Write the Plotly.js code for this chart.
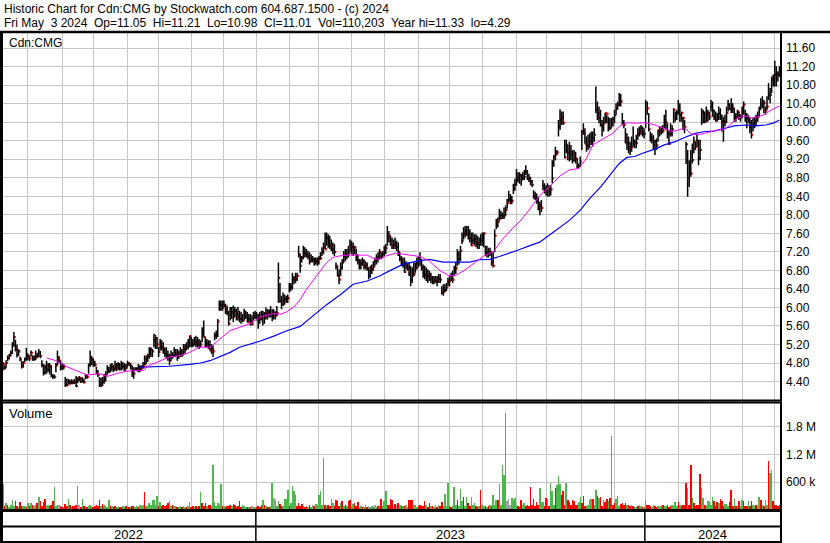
<!DOCTYPE html>
<html>
<head>
<meta charset="utf-8">
<script src="https://cdn.plot.ly/plotly-3.0.1.min.js"></script>
<style>
  html, body { margin: 0; padding: 0; background: #ffffff; }
  #chart { width: 830px; height: 543px; }
</style>
</head>
<body>
<div id="chart"></div>
<script>
// ---- Daily bars (index 0 = first trading day shown, mid-May 2022; 499 = Fri May 3 2024) ----
const high = [
4.82,4.75,4.86,4.96,5.00,5.07,5.25,5.47,5.30,5.20,
5.10,4.94,4.85,4.84,4.92,5.13,5.00,4.96,5.07,4.97,
4.96,5.07,5.02,5.10,5.06,4.86,4.78,4.76,4.85,4.80,
4.80,4.75,4.56,4.55,4.80,5.07,4.95,4.85,4.80,4.78,
4.50,4.46,4.46,4.44,4.45,4.44,4.46,4.52,4.50,4.52,
4.48,4.50,4.46,4.56,4.55,4.79,5.07,4.95,4.90,4.85,
4.72,4.65,4.50,4.48,4.50,4.56,4.62,4.75,4.72,4.78,
4.80,4.76,4.85,4.80,4.82,4.80,4.85,4.82,4.80,4.78,
4.85,4.82,4.80,4.74,4.71,4.71,4.71,4.78,4.75,4.75,
4.82,4.96,4.96,5.00,5.14,5.14,5.10,5.43,5.41,5.36,
5.14,5.32,5.29,5.25,5.14,5.14,5.07,5.00,5.07,5.03,
5.14,5.10,5.10,5.07,5.14,5.10,5.21,5.21,5.25,5.32,
5.39,5.36,5.32,5.36,5.39,5.36,5.32,5.29,5.57,5.72,
5.36,5.32,5.29,5.29,5.21,5.18,5.46,5.50,5.75,6.15,
6.15,6.15,6.15,6.08,6.04,5.93,6.01,6.01,6.04,6.01,
5.97,6.01,5.93,5.90,5.86,5.97,5.93,5.90,5.86,5.86,
5.83,5.90,5.93,5.90,5.86,5.90,5.93,5.93,5.90,6.00,
5.96,5.96,6.03,5.96,5.96,5.92,6.03,6.97,6.53,6.25,
6.32,6.28,6.25,6.28,6.53,6.53,6.75,6.68,6.75,6.75,
7.33,7.15,7.11,7.33,7.30,7.26,7.22,7.19,7.15,7.11,
7.08,7.08,7.08,7.11,7.19,7.30,7.40,7.62,7.62,7.58,
7.55,7.47,7.40,7.37,6.97,6.90,6.82,6.97,7.04,7.22,
7.26,7.26,7.33,7.47,7.44,7.40,7.33,7.26,7.15,7.04,
7.04,7.08,7.04,7.00,6.97,6.86,6.90,6.93,7.00,7.08,
7.15,7.19,7.26,7.19,7.22,7.33,7.37,7.76,7.65,7.55,
7.51,7.47,7.51,7.44,7.40,7.19,7.11,7.08,7.08,7.00,
6.97,6.97,6.90,6.86,6.97,6.97,7.08,7.11,7.19,7.04,
6.93,6.90,6.86,6.82,6.79,6.75,6.68,6.68,6.68,6.68,
6.72,6.72,6.46,6.50,6.50,6.53,6.64,6.68,6.75,6.79,
6.90,6.97,7.26,7.22,7.33,7.62,7.73,7.76,7.76,7.76,
7.69,7.62,7.62,7.58,7.58,7.55,7.51,7.58,7.62,7.62,
7.33,7.33,7.29,7.29,7.22,7.19,7.69,7.91,7.94,8.13,
8.09,8.05,8.16,8.20,8.34,8.52,8.45,8.41,8.67,8.78,
8.99,8.92,8.92,8.88,8.92,8.97,9.07,8.97,8.89,8.82,
8.75,8.53,8.50,8.46,8.39,8.28,8.32,8.75,8.68,8.64,
8.68,8.64,8.64,9.18,9.29,9.47,9.40,10.05,10.28,10.23,
10.23,9.62,9.62,9.51,9.58,9.51,9.40,9.40,9.36,9.22,
9.11,9.26,9.83,9.98,9.87,9.69,9.73,9.76,9.80,9.80,
9.87,10.77,10.45,10.34,10.27,10.05,10.12,10.20,10.16,10.12,
10.09,10.09,10.12,10.27,10.41,10.45,10.63,10.61,10.20,10.05,
9.87,9.76,9.69,9.58,9.69,9.91,9.62,9.73,9.87,9.91,
9.94,9.91,9.87,10.48,10.45,10.20,9.80,9.76,9.72,9.62,
9.65,9.83,9.91,9.91,9.94,10.16,10.27,9.98,9.83,9.98,
9.94,10.30,10.23,10.27,10.48,10.41,10.23,10.12,10.05,9.58,
9.40,9.18,9.40,9.54,9.69,9.58,9.73,9.62,9.62,10.30,
10.27,10.23,10.34,10.27,10.23,10.48,10.45,10.27,10.23,10.20,
10.34,10.30,10.16,10.12,10.16,10.34,10.48,10.41,10.52,10.41,
10.30,10.20,10.27,10.23,10.16,10.34,10.45,10.27,10.20,10.16,
10.12,10.05,10.09,10.12,10.16,10.23,10.34,10.52,10.56,10.48,
10.34,10.56,10.85,10.74,10.99,11.03,11.33,11.21,11.10,11.21
];
const low = [
4.64,4.66,4.70,4.84,4.88,4.95,5.00,5.15,5.05,4.92,
4.95,4.84,4.68,4.70,4.82,4.85,4.86,4.84,4.94,4.85,
4.85,4.86,4.90,4.93,4.90,4.71,4.53,4.55,4.57,4.60,
4.55,4.49,4.46,4.46,4.60,4.75,4.80,4.64,4.65,4.66,
4.28,4.30,4.34,4.33,4.34,4.34,4.35,4.28,4.36,4.40,
4.37,4.38,4.36,4.45,4.46,4.57,4.72,4.75,4.72,4.72,
4.55,4.50,4.28,4.28,4.30,4.35,4.40,4.55,4.58,4.60,
4.62,4.60,4.64,4.62,4.65,4.64,4.64,4.66,4.62,4.66,
4.71,4.74,4.66,4.50,4.46,4.64,4.62,4.60,4.60,4.64,
4.68,4.75,4.78,4.82,4.89,4.93,4.93,5.14,5.10,5.10,
4.93,5.07,5.07,5.00,4.93,4.89,4.85,4.75,4.85,4.89,
4.93,4.93,4.85,4.89,4.93,4.93,4.96,5.00,5.07,5.10,
5.14,5.14,5.14,5.18,5.14,5.14,5.10,5.14,5.25,5.36,
5.14,5.14,5.10,5.07,5.00,4.93,5.29,5.32,5.36,5.93,
5.93,5.93,6.01,5.86,5.83,5.61,5.72,5.75,5.68,5.79,
5.72,5.72,5.68,5.65,5.68,5.72,5.75,5.68,5.68,5.61,
5.61,5.72,5.75,5.72,5.54,5.65,5.72,5.61,5.65,5.74,
5.74,5.78,5.78,5.70,5.74,5.74,5.81,6.10,6.10,5.96,
6.03,6.06,6.10,6.10,6.32,6.35,6.39,6.50,6.53,6.57,
7.08,6.75,6.97,7.04,7.08,7.08,7.04,6.93,6.97,6.97,
6.90,6.93,6.90,6.93,7.04,7.11,7.15,7.26,7.33,7.29,
7.26,7.22,7.15,7.11,6.82,6.68,6.50,6.68,6.82,6.97,
7.00,7.04,7.08,7.19,7.15,7.11,7.15,7.00,6.93,6.82,
6.82,6.90,6.82,6.82,6.79,6.61,6.64,6.72,6.79,6.90,
6.93,6.97,7.04,7.04,7.06,7.11,7.15,7.33,7.40,7.33,
7.26,7.26,7.26,7.22,7.11,7.00,6.90,6.86,6.75,6.82,
6.79,6.68,6.46,6.53,6.68,6.75,6.82,6.86,6.90,6.79,
6.64,6.61,6.57,6.53,6.57,6.53,6.50,6.50,6.53,6.46,
6.53,6.53,6.28,6.25,6.32,6.35,6.46,6.46,6.57,6.53,
6.68,6.72,6.90,6.93,7.00,7.37,7.47,7.51,7.55,7.47,
7.40,7.33,7.37,7.33,7.30,7.26,7.26,7.33,7.33,7.30,
7.11,7.08,7.08,7.11,6.90,6.86,7.19,7.69,7.73,7.87,
7.91,7.91,7.91,7.98,8.13,8.27,8.23,8.23,8.45,8.52,
8.63,8.70,8.67,8.63,8.74,8.75,8.86,8.75,8.71,8.64,
8.60,8.35,8.32,8.24,8.10,7.99,8.06,8.53,8.46,8.42,
8.39,8.39,8.42,8.68,9.04,9.18,9.29,9.69,9.83,9.94,
9.94,9.22,9.33,9.18,9.15,9.18,9.11,9.15,9.11,9.00,
9.00,9.04,9.40,9.73,9.54,9.36,9.40,9.44,9.51,9.47,
9.58,10.20,10.05,9.98,9.91,9.69,9.80,9.98,9.98,9.80,
9.83,9.87,9.91,9.98,10.16,10.27,10.34,10.34,9.94,9.87,
9.54,9.40,9.33,9.29,9.36,9.47,9.44,9.44,9.62,9.69,
9.73,9.69,9.65,9.87,10.16,9.80,9.58,9.54,9.40,9.29,
9.40,9.58,9.69,9.73,9.76,9.87,9.83,9.65,9.51,9.69,
9.69,9.98,10.01,10.05,10.16,10.01,10.01,9.83,9.76,9.10,
8.39,8.60,8.82,9.11,9.33,9.40,9.47,9.07,9.18,9.94,
9.98,9.98,10.01,10.01,10.05,10.23,10.12,10.05,10.01,10.01,
10.05,10.05,9.80,9.58,9.91,9.98,10.23,10.27,10.20,10.20,
10.01,10.01,10.09,10.05,10.01,10.09,10.16,10.01,9.87,9.98,
9.76,9.65,9.80,9.87,9.91,10.01,10.12,10.27,10.30,10.20,
10.16,10.27,10.48,10.41,10.63,10.77,10.77,10.77,10.88,10.98
];
const close = [
4.78,4.69,4.80,4.90,4.96,5.02,5.20,5.36,5.10,4.98,
5.05,4.88,4.74,4.80,4.88,5.00,4.95,4.90,5.02,4.88,
4.90,4.95,4.95,5.03,4.95,4.75,4.60,4.70,4.66,4.75,
4.72,4.52,4.50,4.50,4.75,4.90,4.85,4.70,4.72,4.72,
4.35,4.32,4.40,4.38,4.38,4.37,4.38,4.30,4.45,4.48,
4.40,4.42,4.38,4.52,4.50,4.75,4.80,4.88,4.78,4.76,
4.62,4.55,4.32,4.36,4.40,4.45,4.55,4.68,4.62,4.71,
4.71,4.66,4.70,4.75,4.71,4.68,4.78,4.72,4.64,4.70,
4.80,4.76,4.74,4.60,4.57,4.66,4.68,4.70,4.67,4.70,
4.72,4.77,4.90,4.95,5.00,5.09,5.05,5.30,5.33,5.20,
5.04,5.25,5.15,5.10,5.00,4.97,4.95,4.85,4.93,4.95,
5.05,5.00,4.92,5.00,5.05,4.99,5.10,5.15,5.14,5.25,
5.38,5.22,5.20,5.28,5.23,5.25,5.19,5.20,5.45,5.36,
5.20,5.22,5.18,5.07,5.10,5.05,5.39,5.40,5.70,5.97,
6.05,5.99,6.04,5.95,5.90,5.65,5.85,5.90,5.80,5.93,
5.85,5.80,5.75,5.75,5.72,5.88,5.82,5.68,5.75,5.70,
5.65,5.80,5.85,5.78,5.83,5.75,5.79,5.85,5.80,5.88,
5.85,5.90,5.85,5.80,5.88,5.82,5.88,6.64,6.14,6.07,
6.15,6.18,6.12,6.20,6.43,6.45,6.60,6.62,6.61,6.68,
7.15,6.90,7.08,7.20,7.15,7.13,7.10,7.00,7.05,7.03,
6.95,7.00,6.98,7.05,7.06,7.20,7.30,7.26,7.50,7.45,
7.33,7.35,7.25,7.20,6.90,6.68,6.60,6.85,6.97,7.10,
7.15,7.12,7.17,7.35,7.30,7.25,7.29,7.10,7.02,6.93,
6.95,7.00,6.90,6.92,6.85,6.68,6.75,6.82,6.88,7.00,
7.05,7.08,7.20,7.10,7.15,7.25,7.28,7.44,7.55,7.44,
7.33,7.35,7.37,7.30,7.20,7.05,6.95,6.92,6.77,6.90,
6.85,6.74,6.60,6.68,6.72,6.85,6.95,7.00,7.03,6.86,
6.75,6.70,6.68,6.68,6.68,6.62,6.57,6.60,6.58,6.55,
6.62,6.60,6.32,6.35,6.39,6.43,6.55,6.58,6.69,6.60,
6.80,6.85,7.14,7.05,7.22,7.44,7.60,7.65,7.58,7.62,
7.50,7.34,7.45,7.48,7.40,7.38,7.37,7.45,7.50,7.60,
7.20,7.18,7.15,7.20,6.98,6.90,7.55,7.75,7.85,7.92,
8.00,7.98,7.98,8.10,8.25,8.33,8.35,8.30,8.56,8.65,
8.76,8.80,8.85,8.85,8.80,8.82,8.93,8.79,8.78,8.71,
8.65,8.39,8.40,8.30,8.13,8.20,8.15,8.62,8.55,8.50,
8.59,8.50,8.55,8.79,9.24,9.30,9.35,9.91,10.05,10.10,
9.99,9.24,9.51,9.35,9.36,9.30,9.18,9.33,9.22,9.04,
9.05,9.15,9.80,9.76,9.54,9.50,9.46,9.60,9.69,9.65,
9.73,10.27,10.20,10.10,9.94,9.91,9.98,10.20,10.18,9.85,
9.87,9.95,10.07,10.15,10.30,10.38,10.59,10.45,9.98,9.94,
9.65,9.55,9.45,9.40,9.46,9.60,9.58,9.55,9.75,9.80,
9.87,9.78,9.75,10.41,10.30,9.85,9.68,9.62,9.50,9.58,
9.50,9.83,9.80,9.85,9.82,10.05,10.00,9.75,9.54,9.76,
9.85,10.27,10.10,10.20,10.30,10.15,10.20,10.09,9.90,9.52,
8.79,8.90,8.89,9.18,9.58,9.47,9.60,9.22,9.40,10.21,
10.01,10.01,10.15,10.20,10.12,10.34,10.25,10.12,10.05,10.10,
10.20,10.15,10.01,10.01,10.01,10.20,10.38,10.28,10.35,10.30,
10.12,10.10,10.23,10.15,10.10,10.23,10.38,10.15,10.09,10.05,
9.90,9.73,9.95,10.00,10.05,10.12,10.28,10.40,10.45,10.41,
10.25,10.34,10.61,10.59,10.92,10.95,11.03,11.06,11.03,11.01
];
// Daily volume, thousands of shares
const volumeK = [
568,86,153,100,72,112,208,95,192,86,
68,169,76,80,95,68,146,86,146,100,
76,104,153,277,192,95,169,230,86,100,
76,115,192,492,80,112,100,86,65,68,
120,80,230,100,68,80,86,112,515,100,
68,238,76,80,68,86,112,80,72,95,
115,76,208,86,138,115,95,68,208,76,
80,72,86,68,65,72,65,76,65,80,
72,68,65,86,80,68,80,72,115,76,
100,392,80,86,153,112,208,222,104,300,
95,169,86,115,76,115,153,200,86,115,
76,80,72,68,80,68,80,72,65,86,
169,72,80,68,80,68,86,392,153,95,
153,76,115,115,86,976,169,95,153,100,
561,86,80,72,80,95,115,76,130,115,
72,80,192,68,115,76,65,72,68,62,
80,68,65,60,80,68,115,215,115,80,
72,65,76,584,254,215,86,192,130,80,
95,238,230,438,80,153,515,415,315,86,
153,86,130,80,72,80,68,115,72,100,
76,130,112,330,415,100,1130,115,86,100,
76,246,153,86,208,200,95,153,200,86,
115,76,200,208,86,130,153,76,169,72,
80,68,65,115,68,80,65,80,68,115,
72,80,86,238,86,200,400,112,115,230,
215,95,138,115,153,115,80,80,86,115,
68,223,223,223,100,100,68,76,115,86,
80,192,100,72,146,80,86,68,115,72,
100,80,169,86,353,95,577,86,60,86,
492,100,215,86,445,192,284,86,284,153,
86,277,112,146,86,72,76,422,115,76,
86,65,95,115,80,315,104,223,215,561,
112,975,745,2080,200,230,115,268,215,268,
100,80,60,208,108,153,86,115,76,485,
100,230,86,177,104,469,169,169,86,268,
245,86,584,415,100,477,546,730,561,315,
415,100,577,208,169,104,215,192,115,100,
177,284,153,307,86,80,100,215,238,230,
100,422,300,261,284,95,215,169,230,200,
268,1600,100,153,230,307,86,130,153,112,
153,100,115,86,115,80,68,65,86,100,
80,65,68,208,104,115,80,68,115,80,
72,80,68,80,100,76,80,100,72,86,
115,86,169,86,169,115,86,115,115,584,
469,104,975,268,153,86,115,100,776,469,
268,115,86,192,169,100,277,200,86,169,
153,245,200,86,130,130,86,169,438,86,
230,80,80,192,86,215,192,86,80,200,
86,192,115,86,115,86,277,215,100,86,
215,100,1050,800,870,192,115,112,86,110
];
// Volume bar colour: g = up day, r = down day, n = unchanged
const volumeDir = [
"grgrggggrr","grrggrgrgr","ggrgrrrrgg","rrrgggnrrg","rrgrgrrrgn",
"rgrgrgggrr","rrrgrggggr","grrggrrggr","grgrrggrgg","grgggggggg",
"rgrrrrrggr","ggrggrggrg","grrgrgrgrr","rgrrgggggg","grgrrrrgrr",
"rrrrgggrgr","nggrrrrgrg","rrggngggrr","ggggrggggr","rrrgrrgrgn",
"rggggggrgr","rggrrrrgrg","rgrrggrrrg","grggrnggrn","grgrgggrrr",
"rnrnrgrgrg","grrrgggrrr","rrgrrgrggr","grrggggrrg","ggrgggrggr",
"rgggrrgrgg","rgrgrgggrg","ggggnnnggg","grrrggrrrr","rrrrrgggrr",
"grgggrgggr","rrgrrrrrrr","ggrrrggggr","ggrgrrgrrg","rgrrgggrrr",
"rgrrgrggrg","grggrrrggr","rgggrggrrr","ggggrgrrrr","grrgrrrrrg",
"grgggggrrr","grrrgggrrr","grgrggrrrg","rrggrggrgr","ggrggrrrrr"
].join("").split("");

// Moving averages (bar index, price)
const maShortX = [28,34,41,49,54,62,67,73,79,85,90,94,101,107,114,120,126,133,137,142,
146,152,159,165,174,178,182,187,191,195,199,204,208,212,216,221,225,229,234,238,
242,246,252,255,261,268,274,281,287,291,296,302,309,315,321,328,332,338,345,351,
358,364,370,375,379,386,392,396,401,407,413,419,425,430,434,438,442,447,451,455,
459,464,468,472,477,481,485,489,494,499];
const maShortY = [4.91,4.85,4.72,4.60,4.54,4.57,4.51,4.57,4.62,4.64,4.64,4.75,4.85,4.93,4.96,5.03,5.14,5.14,5.25,5.39,
5.50,5.57,5.65,5.79,5.87,5.85,5.90,6.01,6.17,6.39,6.57,6.79,6.97,7.08,7.11,7.13,7.13,7.13,7.13,7.06,
7.04,7.11,7.17,7.16,7.13,7.10,7.00,6.79,6.68,6.69,6.79,6.93,7.11,7.20,7.47,7.73,7.85,8.10,8.42,8.60,
8.84,8.97,9.00,9.22,9.51,9.65,9.76,9.91,9.99,9.98,9.99,9.94,9.87,9.80,9.83,9.88,9.75,9.73,9.76,9.80,
9.83,9.85,9.96,10.09,10.14,10.09,10.12,10.16,10.27,10.35];
const maLongX = [88,107,120,127,133,139,146,152,159,165,174,182,191,199,208,217,225,234,242,249,
257,266,274,283,292,300,306,313,319,326,332,339,345,351,358,364,371,377,384,390,
396,401,406,411,419,425,432,438,445,451,457,464,470,477,483,490,495,499];
const maLongY = [4.71,4.73,4.77,4.80,4.85,4.93,5.03,5.14,5.21,5.27,5.38,5.49,5.59,5.81,6.06,6.28,6.50,6.57,6.68,6.80,
6.93,7.00,7.04,6.98,6.98,6.98,7.03,7.04,7.10,7.19,7.25,7.34,7.41,7.56,7.74,7.88,8.10,8.35,8.60,8.86,
9.11,9.24,9.26,9.33,9.42,9.51,9.58,9.67,9.76,9.80,9.81,9.87,9.92,9.94,9.92,9.94,9.98,10.05];

// Axis labels / calendar positions (bar index of first trading day)
const monthStarts = [16,38,58,80,100,121,142,163,184,203,224,245,267,287,308,330,349,372,393,413,434,455,475,496];
const yearStarts = [163,413];
const yearLabels = ["2022","2023","2024"];
const priceTicks = [4.40,4.80,5.20,5.60,6.00,6.40,6.80,7.20,7.60,8.00,8.40,8.80,9.20,9.60,10.00,10.40,10.80,11.20,11.60];
const volumeTicks = [600000,1200000,1800000];
const volumeTickText = ["600 k","1.2 M","1.8 M"];
const headerLine1 = "Historic Chart for Cdn:CMG by Stockwatch.com 604.687.1500 - (c) 2024";
const headerLine2 = "Fri May  3 2024  Op=11.05  Hi=11.21  Lo=10.98  Cl=11.01  Vol=110,203  Year hi=11.33  lo=4.29";
const symbolLabel = "Cdn:CMG";

const n = high.length;
if (low.length !== n || close.length !== n || volumeK.length !== n || volumeDir.length !== n) {
  throw new Error("length mismatch " + [high.length, low.length, close.length, volumeK.length, volumeDir.length].join(","));
}

const idx = [];
for (let i = 0; i < n; i++) idx.push(i);

// high-low sticks
const barX = [], barY = [];
for (let i = 0; i < n; i++) { barX.push(i, i, null); barY.push(low[i], high[i], null); }

const dirColor = { g: "#4cb84c", r: "#ff0000", n: "#a0a0a0" };
const volColors = volumeDir.map(d => dirColor[d]);
const volumes = volumeK.map(v => v * 1000);

const FONT = "Liberation Sans, Arial, sans-serif";
const nb = s => s.replace(/ /g, "\u00a0");

// Plot area: x 2..781 px, y 32..510 px
const W = 779, T = 32, B = 510, H = B - T, L = 2;
const py = px => (B - px) / H;
const pxX = px => (px - L) / W;
const priceDomain = [py(400.5), 1];
const volDomain = [0, py(402.5)];

const traces = [
  // red close marks sit under the sticks, peeking out on the right
  { type: "scatter", mode: "markers", x: idx.map(i => i + 0.5), y: close, xaxis: "x", yaxis: "y",
    marker: { symbol: "square", size: 2.2, color: "#ff0000", line: { width: 0 } }, hoverinfo: "skip" },
  { type: "scatter", mode: "lines", x: barX, y: barY, xaxis: "x", yaxis: "y",
    line: { color: "#000000", width: 1.5 }, hoverinfo: "skip", connectgaps: false },
  { type: "scatter", mode: "lines", x: maLongX, y: maLongY, xaxis: "x", yaxis: "y",
    line: { color: "#0000ff", width: 1.2 }, hoverinfo: "skip" },
  { type: "scatter", mode: "lines", x: maShortX, y: maShortY, xaxis: "x", yaxis: "y",
    line: { color: "#ff00ff", width: 1 }, hoverinfo: "skip" },
  { type: "bar", x: idx, y: volumes, xaxis: "x", yaxis: "y2", width: 1.0,
    marker: { color: volColors, line: { width: 0 } }, hoverinfo: "skip" }
];

const shapes = [
  { type: "rect", xref: "paper", yref: "paper", x0: 0, x1: 1, y0: priceDomain[0], y1: 1, line: { color: "#000", width: 2 } },
  { type: "rect", xref: "paper", yref: "paper", x0: 0, x1: 1, y0: 0, y1: volDomain[1], line: { color: "#000", width: 2 } },
  { type: "line", xref: "paper", yref: "paper", x0: pxX(0), x1: pxX(830), y0: py(32), y1: py(32), line: { color: "#000", width: 2.5 } },
  { type: "rect", xref: "paper", yref: "paper", x0: 0, x1: 1, y0: py(511), y1: py(542), line: { color: "#000", width: 2 } },
  { type: "line", xref: "paper", yref: "paper", x0: 0, x1: 1, y0: py(526.5), y1: py(526.5), line: { color: "#000", width: 2 } },
  { type: "line", xref: "paper", yref: "paper", x0: pxX(1), x1: pxX(1), y0: py(32), y1: py(543), line: { color: "#000", width: 2 } }
];
yearStarts.forEach(ys => shapes.push({ type: "line", xref: "x", yref: "paper", x0: ys - 0.5, x1: ys - 0.5,
  y0: py(511), y1: py(542), line: { color: "#000", width: 1.5 } }));

const xRange = [-0.64, 500.0];
const bounds = [xRange[0]].concat(yearStarts.map(v => v - 0.5)).concat([xRange[1]]);
const annotations = [
  { xref: "paper", yref: "paper", x: pxX(3), y: py(8.5), xanchor: "left", yanchor: "middle", showarrow: false,
    text: nb(headerLine1), font: { family: FONT, size: 12, color: "#000" }, borderpad: 0 },
  { xref: "paper", yref: "paper", x: pxX(3), y: py(23), xanchor: "left", yanchor: "middle", showarrow: false,
    text: nb(headerLine2), font: { family: FONT, size: 12, color: "#000" }, borderpad: 0 },
  { xref: "paper", yref: "paper", x: pxX(8), y: py(43), xanchor: "left", yanchor: "middle", showarrow: false,
    text: symbolLabel, font: { family: FONT, size: 12, color: "#000" }, borderpad: 0 },
  { xref: "paper", yref: "paper", x: pxX(8), y: py(413), xanchor: "left", yanchor: "middle", showarrow: false,
    text: "Volume", font: { family: FONT, size: 13, color: "#000" }, borderpad: 0 }
];
yearLabels.forEach((lab, k) => annotations.push({
  xref: "x", yref: "paper", x: (bounds[k] + bounds[k + 1]) / 2, y: py(534.5), xanchor: "center", yanchor: "middle",
  showarrow: false, text: lab, font: { family: FONT, size: 13, color: "#000" }, borderpad: 0
}));

const layout = {
  width: 830, height: 543,
  margin: { l: L, r: 830 - L - W, t: T, b: 543 - B, pad: 0 },
  paper_bgcolor: "#ffffff", plot_bgcolor: "#ffffff",
  showlegend: false,
  bargap: 0,
  font: { family: FONT, size: 12, color: "#000" },
  xaxis: { range: xRange, tickvals: monthStarts, showticklabels: false, ticks: "",
    showgrid: true, gridcolor: "#c6c6c6", gridwidth: 1, zeroline: false, showline: false, anchor: "y2", fixedrange: true },
  yaxis: { domain: priceDomain, range: [3.990, 11.949], side: "right", anchor: "x",
    tickvals: priceTicks, ticktext: priceTicks.map(v => v.toFixed(2)), ticks: "", ticklabelstandoff: 4,
    showgrid: true, gridcolor: "#c6c6c6", gridwidth: 1, zeroline: false, showline: false,
    tickfont: { family: FONT, size: 12, color: "#000" }, fixedrange: true },
  yaxis2: { domain: volDomain, range: [0, 2316000], side: "right", anchor: "x",
    tickvals: volumeTicks, ticktext: volumeTickText, ticks: "", ticklabelstandoff: 4,
    showgrid: true, gridcolor: "#c6c6c6", gridwidth: 1, zeroline: false, showline: false,
    tickfont: { family: FONT, size: 12, color: "#000" }, fixedrange: true },
  shapes: shapes,
  annotations: annotations
};

Plotly.newPlot("chart", traces, layout, { staticPlot: true, displayModeBar: false });
</script>
</body>
</html>
